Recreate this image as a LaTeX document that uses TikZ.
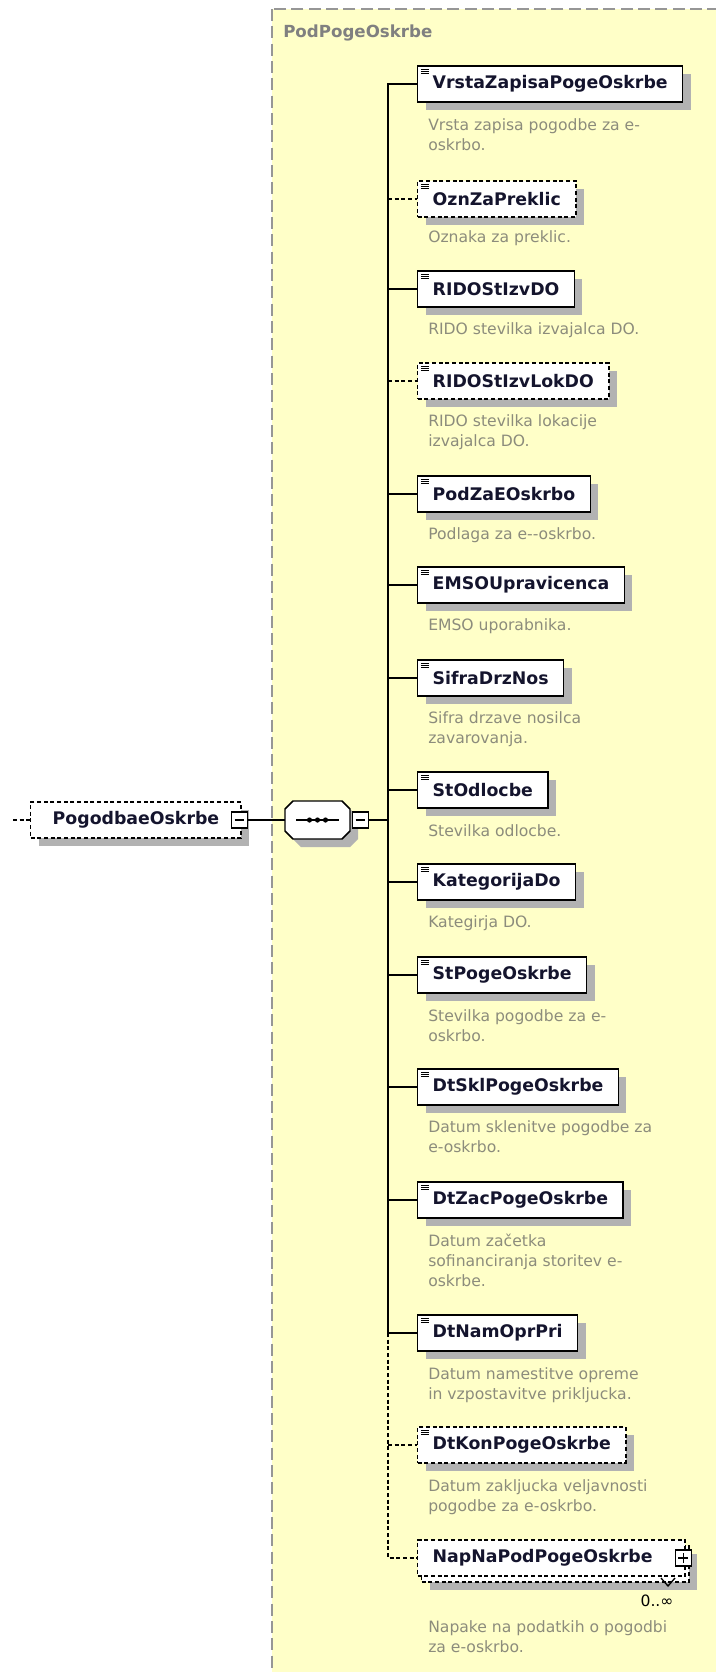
\documentclass[tikz,border=0pt]{standalone}
\usepackage{fontspec}
\newfontfamily\xsdfont{DejaVu Sans}
\usetikzlibrary{shadows}
\definecolor{grpfill}{RGB}{255,255,200}
\definecolor{grpline}{RGB}{150,150,150}
\definecolor{shadowgray}{RGB}{178,178,178}
\definecolor{descgray}{RGB}{140,140,124}
\definecolor{titlegray}{RGB}{128,128,128}
\definecolor{namecol}{RGB}{20,20,45}
\def\octagon[#1](#2){\draw[#1] (#2) ++(-24.5,-19) -- ++(49,0) -- ++(8,8) -- ++(0,22) -- ++(-8,8) -- ++(-49,0) -- ++(-8,-8) -- ++(0,-22) -- cycle;}
\tikzset{
  box/.style={draw=black, line width=1.1pt, fill=white, anchor=west, inner xsep=11.25pt, inner ysep=0pt,
    minimum height=27pt, text=namecol, font=\xsdfont\bfseries\fontsize{13}{15}\selectfont},
  elem/.style={box, general shadow={fill=shadowgray, shadow xshift=6pt, shadow yshift=-6pt}},
  optelem/.style={elem, dash pattern=on 3pt off 2pt},
  simple/.style={path picture={
    \foreach \k in {2.4,3.9,5.4}
      \draw[line width=0.6pt, solid] ([xshift=2.4pt,yshift=-\k pt]path picture bounding box.north west) -- ++(6pt,0pt);}},
  desc/.style={anchor=north west, inner sep=0pt, align=left, text=descgray, font=\xsdfont\fontsize{11.7}{15}\selectfont},
  expbox/.style={draw=black, line width=0.8pt, fill=white, solid, minimum size=12pt, inner sep=0pt},
  minusbox/.style={expbox, path picture={
    \draw[line width=0.8pt] ([xshift=2.5pt]path picture bounding box.west) -- ([xshift=-2.5pt]path picture bounding box.east);}},
  plusbox/.style={expbox, path picture={
    \draw[line width=0.8pt] ([xshift=2.5pt]path picture bounding box.west) -- ([xshift=-2.5pt]path picture bounding box.east);
    \draw[line width=0.8pt] ([yshift=-2.5pt]path picture bounding box.north) -- ([yshift=2.5pt]path picture bounding box.south);}},
  link/.style={line width=1.1pt},
  optlink/.style={link, dash pattern=on 3pt off 2pt},
}

\begin{document}
\begin{tikzpicture}[x=0.75pt,y=-0.75pt]
	%%%%% FRAME %%%%%
	\useasboundingbox (0,0) rectangle (715,1672);
	\fill[white] (0,0) rectangle (715,1672);
	
	\draw[fill=grpfill, draw=grpline, line width=1.1pt, dash pattern=on 9pt off 4pt] (272,9) rectangle (730,1690);
	\node[anchor=west, inner sep=0pt, text=titlegray, font=\xsdfont\bfseries\fontsize{12.5}{15}\selectfont] (title) at (283,33) {PodPogeOskrbe};
	
	%%%%% PARENT %%%%%
	\coordinate (entry) at (13,820);
	\node[optelem, inner xsep=16.5pt] (pogodba) at (30,820) {PogodbaeOskrbe};
	\node[minusbox] (pogmin) at ([xshift=-2pt]pogodba.east) {};
	
	\octagon[fill=shadowgray, draw=none](325.5,828)
	\octagon[fill=white, line width=1.1pt](317.5,820)
	\node[minimum width=48.75pt, minimum height=28.5pt, inner sep=0pt] (seq) at (317.5,820) {};
	\draw[line width=1.1pt] ([xshift=-16pt]seq.center) -- ([xshift=16pt]seq.center);
	\fill ([xshift=-6pt]seq.center) circle (2.6);
	\fill (seq.center) circle (2.6);
	\fill ([xshift=6pt]seq.center) circle (2.6);
	\node[minusbox] (seqmin) at ([xshift=7.5pt]seq.east) {};
	
	\coordinate (bus) at (388,820);
	
	%%%%% CHILDREN %%%%%
	\node[elem, simple] (vrsta) at (417,84) {VrstaZapisaPogeOskrbe};
	\node[desc] (vrstadesc) at (428,118) {Vrsta zapisa pogodbe za e-\\oskrbo.};
	
	\node[optelem, simple] (ozn) at (417,199) {OznZaPreklic};
	\node[desc] (ozndesc) at (428,230) {Oznaka za preklic.};
	
	\node[elem, simple] (ridoizv) at (417,289) {RIDOStIzvDO};
	\node[desc] (ridoizvdesc) at (428,322) {RIDO stevilka izvajalca DO.};
	
	\node[optelem, simple] (ridolok) at (417,381) {RIDOStIzvLokDO};
	\node[desc] (ridolokdesc) at (428,414) {RIDO stevilka lokacije\\izvajalca DO.};
	
	\node[elem, simple] (podza) at (417,494) {PodZaEOskrbo};
	\node[desc] (podzadesc) at (428,527) {Podlaga za e-{}-oskrbo.};
	
	\node[elem, simple] (emso) at (417,585) {EMSOUpravicenca};
	\node[desc] (emsodesc) at (428,618) {EMSO uporabnika.};
	
	\node[elem, simple] (sifra) at (417,678) {SifraDrzNos};
	\node[desc] (sifradesc) at (428,711) {Sifra drzave nosilca\\zavarovanja.};
	
	\node[elem, simple] (stodl) at (417,790) {StOdlocbe};
	\node[desc] (stodldesc) at (428,824) {Stevilka odlocbe.};
	
	\node[elem, simple] (kat) at (417,882) {KategorijaDo};
	\node[desc] (katdesc) at (428,915) {Kategirja DO.};
	
	\node[elem, simple] (stpog) at (417,975) {StPogeOskrbe};
	\node[desc] (stpogdesc) at (428,1009) {Stevilka pogodbe za e-\\oskrbo.};
	
	\node[elem, simple] (dtskl) at (417,1087) {DtSklPogeOskrbe};
	\node[desc] (dtskldesc) at (428,1120) {Datum sklenitve pogodbe za\\e-oskrbo.};
	
	\node[elem, simple] (dtzac) at (417,1200) {DtZacPogeOskrbe};
	\node[desc] (dtzacdesc) at (428,1234) {Datum začetka\\sofinanciranja storitev e-\\oskrbe.};
	
	\node[elem, simple] (dtnam) at (417,1333) {DtNamOprPri};
	\node[desc] (dtnamdesc) at (428,1367) {Datum namestitve opreme\\in vzpostavitve prikljucka.};
	
	\node[optelem, simple] (dtkon) at (417,1445) {DtKonPogeOskrbe};
	\node[desc] (dtkondesc) at (428,1479) {Datum zakljucka veljavnosti\\pogodbe za e-oskrbo.};
	
	\node[box, dash pattern=on 3pt off 2pt,
	  general shadow={fill=shadowgray, shadow xshift=9pt, shadow yshift=-10.5pt},
	  general shadow={draw=black, fill=white, shadow xshift=3pt, shadow yshift=-4.5pt}] (nap) at (417,1558) {NapNaPodPogeOskrbe\hspace*{13pt}};
	\node[plusbox] (napplus) at ([xshift=-2pt]nap.east) {};
	\draw[line width=1pt] (661,1578) -- (668,1586) -- (675,1578);
	\node[inner sep=0pt, text=black, font=\xsdfont\fontsize{11.7}{14}\selectfont] (napmult) at (657,1601) {0..∞};
	\node[desc] (napdesc) at (428,1620) {Napake na podatkih o pogodbi\\za e-oskrbo.};
	
	%%%%% LINKS %%%%%
	\draw[optlink] (entry) -- (pogodba.west);
	\draw[link] (pogmin.east) -- (seq.west);
	\draw[link] (seqmin.east) -- (bus);
	\draw[link] (vrsta.west) -- (bus |- vrsta.west) -- (bus |- dtnam.west) -- (dtnam.west);
	\draw[optlink] (bus |- ozn.west) -- (ozn.west);
	\draw[link] (bus |- ridoizv.west) -- (ridoizv.west);
	\draw[optlink] (bus |- ridolok.west) -- (ridolok.west);
	\draw[link] (bus |- podza.west) -- (podza.west);
	\draw[link] (bus |- emso.west) -- (emso.west);
	\draw[link] (bus |- sifra.west) -- (sifra.west);
	\draw[link] (bus |- stodl.west) -- (stodl.west);
	\draw[link] (bus |- kat.west) -- (kat.west);
	\draw[link] (bus |- stpog.west) -- (stpog.west);
	\draw[link] (bus |- dtskl.west) -- (dtskl.west);
	\draw[link] (bus |- dtzac.west) -- (dtzac.west);
	\draw[optlink] (bus |- dtnam.west) -- (bus |- nap.west) -- (nap.west);
	\draw[optlink] (bus |- dtkon.west) -- (dtkon.west);
	%%%%% END %%%%%
\end{tikzpicture}
\end{document}
